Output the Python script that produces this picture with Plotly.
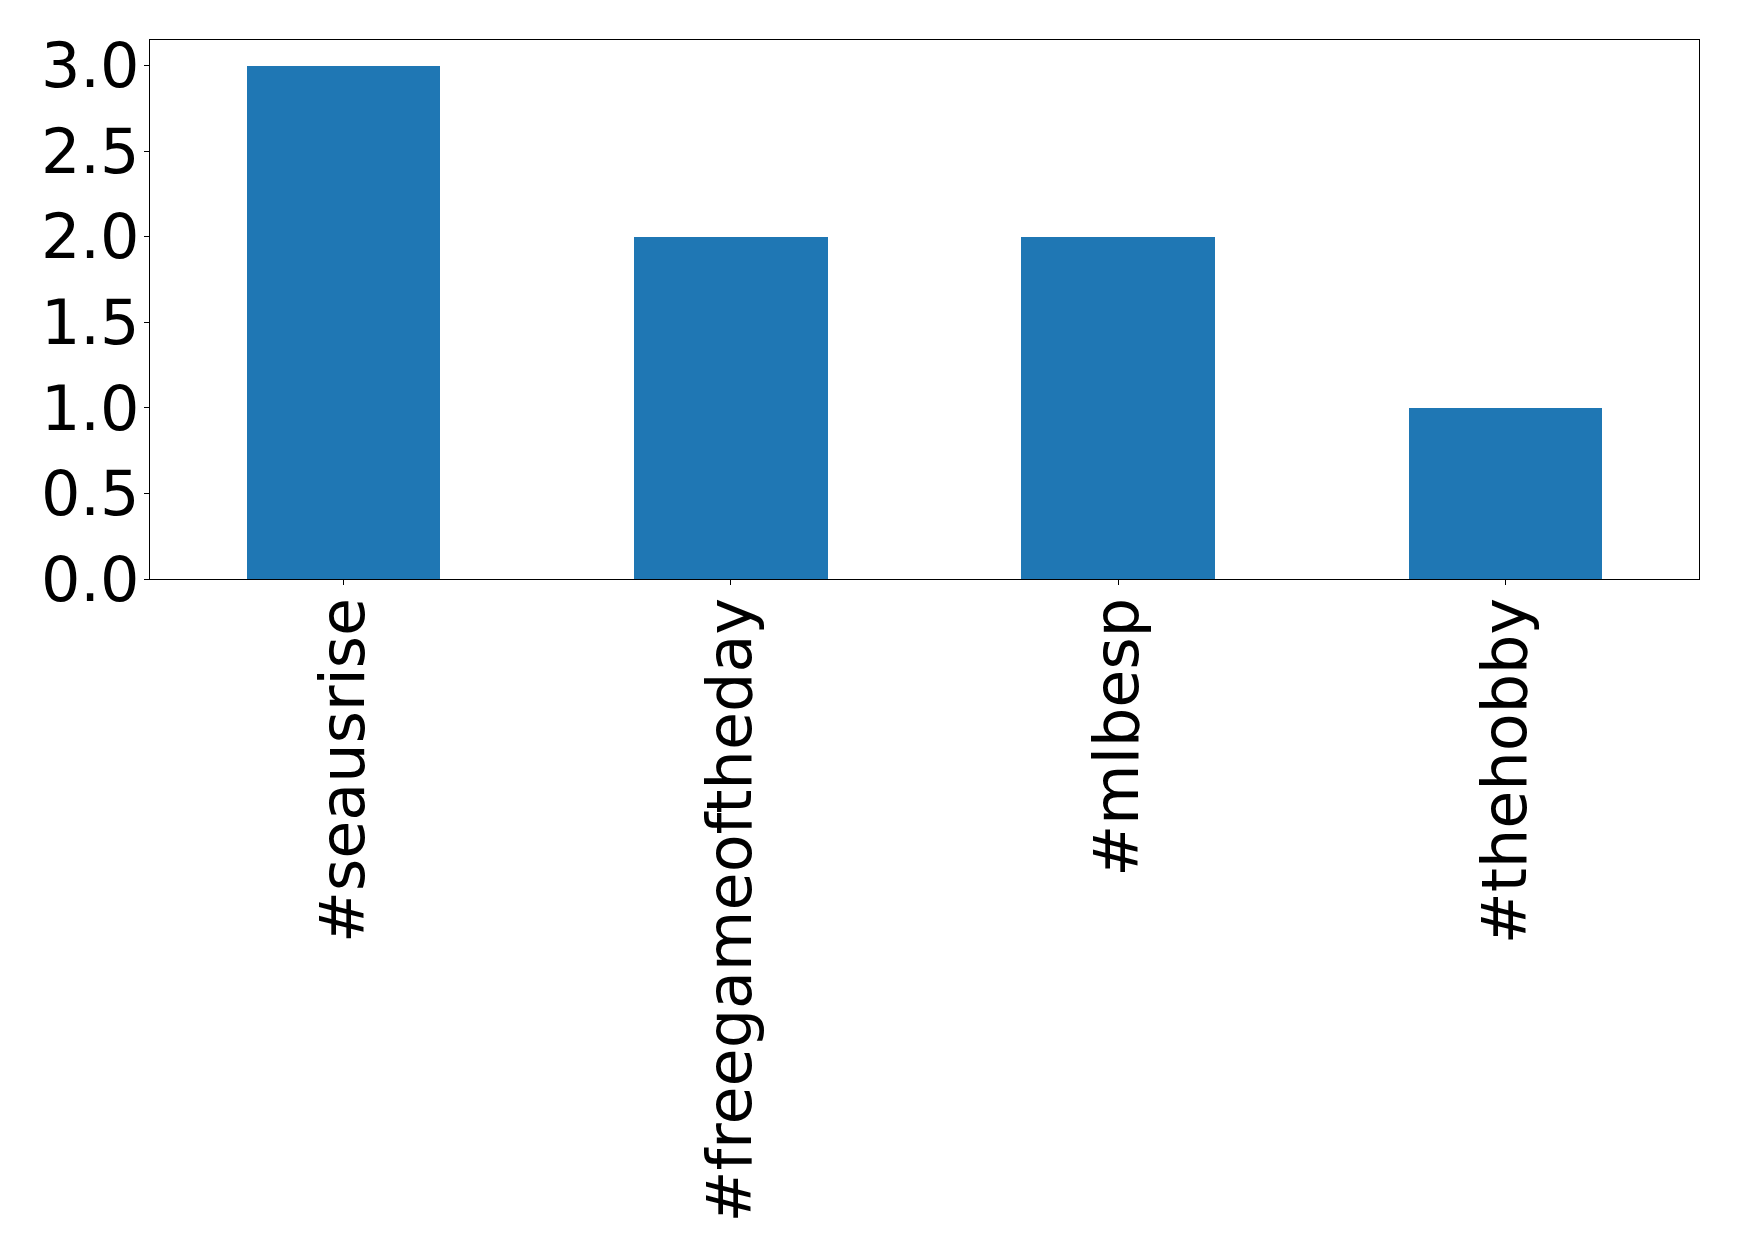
import plotly.graph_objects as go

categories = ["#seausrise", "#freegameoftheday", "#mlbesp", "#thehobby"]
values = [3, 2, 2, 1]
y_ticks = [0.0, 0.5, 1.0, 1.5, 2.0, 2.5, 3.0]
y_tick_labels = ["0.0", "0.5", "1.0", "1.5", "2.0", "2.5", "3.0"]

W, H = 1731, 1250  # page body has 8px margin
fig = go.Figure(go.Bar(x=list(range(len(categories))), y=values, width=0.5,
                       marker=dict(color="#1f77b4", line=dict(width=0))))

font = dict(family="DejaVu Sans", size=62, color="black")
fig.update_layout(
    width=W, height=H,
    margin=dict(l=141.5, r=39.7, t=32.3, b=678.7, autoexpand=False),
    plot_bgcolor="white", paper_bgcolor="white",
    showlegend=False, bargap=0,
)
fig.update_xaxes(range=[-0.5, 3.5], tickmode="array", tickvals=list(range(len(categories))),
                 ticktext=categories, tickangle=-90, tickfont=font,
                 showline=True, linecolor="black", linewidth=1.2, mirror=True,
                 ticks="outside", ticklen=5, tickwidth=1.2, tickcolor="black",
                 ticklabelstandoff=-12,
                 showgrid=False, zeroline=False)
fig.update_yaxes(range=[0, 3.15], tickmode="array", tickvals=y_ticks, ticktext=y_tick_labels,
                 tickfont=font, showline=True, linecolor="black", linewidth=1.2, mirror=True,
                 ticks="outside", ticklen=5, tickwidth=1.2, tickcolor="black",
                 ticklabelstandoff=-8,
                 showgrid=False, zeroline=False)

fig.write_html("out.html")
